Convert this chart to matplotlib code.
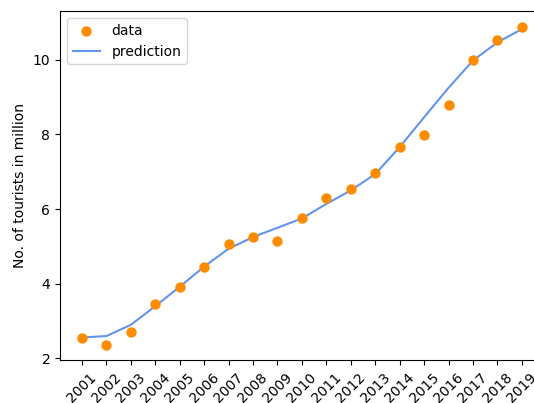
import matplotlib
matplotlib.use("Agg")
import matplotlib.pyplot as plt

years = list(range(2001, 2020))

# tourists per year (million)
data = [2.55, 2.37, 2.72, 3.46, 3.91, 4.45, 5.06, 5.25, 5.15, 5.75,
        6.30, 6.55, 6.96, 7.67, 7.99, 8.78, 9.99, 10.52, 10.88]

# fitted curve
prediction = [2.56, 2.60, 2.90, 3.40, 3.92, 4.46, 4.94, 5.25, 5.50, 5.75,
              6.14, 6.50, 6.94, 7.66, 8.46, 9.25, 9.98, 10.47, 10.82]

fig = plt.figure(figsize=(5.34, 4.03), dpi=100)
ax = fig.add_axes([0.1124, 0.1055, 0.906, 0.867])

ax.scatter(years, data, color="darkorange", s=42, label="data", zorder=3)
ax.plot(years, prediction, color="cornflowerblue", label="prediction")

ax.set_xticks(years)
ax.set_xticklabels([str(y) for y in years], rotation=45)
ax.set_ylabel("No. of tourists in million")
ax.legend(loc="upper left")

fig.savefig("out.png", dpi=100)
